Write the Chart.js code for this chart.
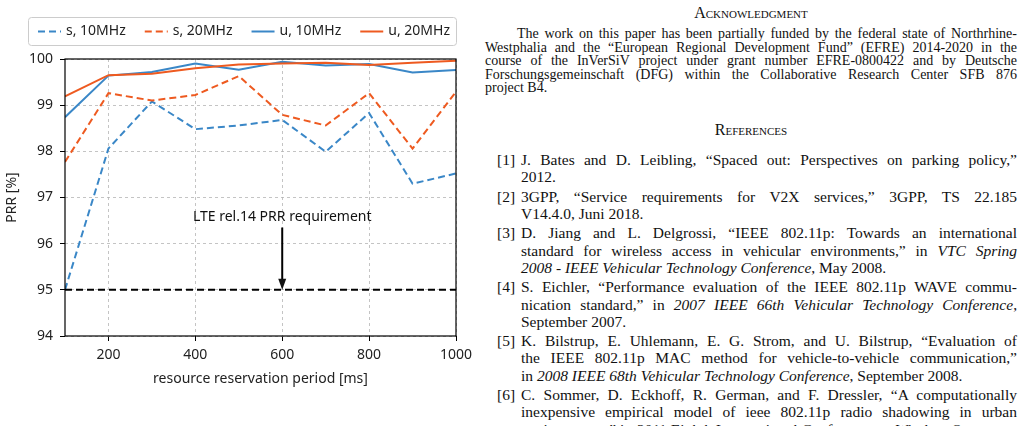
<!DOCTYPE html>
<html>
<head>
<meta charset="utf-8">
<script src="https://cdn.jsdelivr.net/npm/chart.js@4.4.1/dist/chart.umd.min.js"></script>
<style>
  body { margin: 0; width: 1023px; height: 426px; background: #fff; overflow: hidden; position: relative; }
  #chartBox { position: absolute; left: 0; top: 0; }
  .txt { position: absolute; font-family: "Liberation Serif", "Times New Roman", serif; color: #111; white-space: nowrap; }
  .head { left: 485px; width: 532px; text-align: center; font-size: 16px; font-variant: small-caps; }
  .p { font-size: 14px; line-height: 14px; }
  .r { font-size: 15.5px; line-height: 17px; }
</style>
</head>
<body>
<div id="chartBox"><canvas id="chart" width="480" height="426"></canvas></div>
<div id="paper"></div>
<script>
// data
const periods = [100, 200, 300, 400, 500, 600, 700, 800, 900, 1000];
const s10 = [95.0, 98.06, 99.08, 98.48, 98.56, 98.68, 97.99, 98.83, 97.30, 97.52];
const s20 = [97.77, 99.26, 99.10, 99.22, 99.63, 98.79, 98.56, 99.26, 98.06, 99.29];
const u10 = [98.74, 99.64, 99.72, 99.90, 99.77, 99.94, 99.86, 99.89, 99.71, 99.76];
const u20 = [99.19, 99.65, 99.68, 99.80, 99.88, 99.90, 99.92, 99.87, 99.92, 99.96];
const seriesNames = ["s, 10MHz", "s, 20MHz", "u, 10MHz", "u, 20MHz"];
const xTicks = [200, 400, 600, 800, 1000];
const yTicks = [94, 95, 96, 97, 98, 99, 100];
const requirement = 95;
const requirementSpan = [100, 1000];
const requirementText = "LTE rel.14 PRR requirement";
const requirementAt = 600;

const blue = "#3a87c7";
const orange = "#ee5a20";
const dash = [7, 4];

Chart.defaults.font.family = "'Noto Sans', sans-serif";
Chart.defaults.font.size = 14;
Chart.defaults.color = "#222";

const toPoints = (vals) => periods.map((p, i) => ({ x: p, y: vals[i] }));

function series(label, vals, color, dashed, order) {
  return {
    label: label,
    data: toPoints(vals),
    borderColor: color,
    backgroundColor: color,
    borderWidth: 2,
    borderDash: dashed ? dash : [],
    pointRadius: 0,
    tension: 0,
    order: order,
  };
}

// frame, annotation arrow and the boxed legend
const extras = {
  id: "extras",
  afterDatasetsDraw(chart) {
    const { ctx, chartArea: a, scales: { x, y } } = chart;
    ctx.save();
    ctx.strokeStyle = "#000";
    ctx.lineWidth = 1.2;
    ctx.strokeRect(a.left, a.top, a.right - a.left, a.bottom - a.top);

    // requirement label + arrow
    const ax = x.getPixelForValue(requirementAt);
    ctx.fillStyle = "#111";
    ctx.font = "14px 'Noto Sans', sans-serif";
    ctx.textAlign = "center";
    ctx.textBaseline = "middle";
    ctx.fillText(requirementText, ax, y.getPixelForValue(96.58));
    const y0 = y.getPixelForValue(96.35);
    const y1 = y.getPixelForValue(requirement);
    ctx.lineWidth = 2;
    ctx.beginPath();
    ctx.moveTo(ax, y0);
    ctx.lineTo(ax, y1 - 9);
    ctx.stroke();
    ctx.beginPath();
    ctx.moveTo(ax - 4, y1 - 11);
    ctx.lineTo(ax + 4, y1 - 11);
    ctx.lineTo(ax, y1);
    ctx.closePath();
    ctx.fill();

    // legend
    const bx = 28, by = 17, bw = 428, bh = 28;
    ctx.lineWidth = 1;
    ctx.strokeStyle = "#cccccc";
    ctx.fillStyle = "rgba(255,255,255,0.9)";
    ctx.beginPath();
    ctx.roundRect(bx + 0.5, by + 0.5, bw, bh, 3);
    ctx.fill();
    ctx.stroke();
    const cy = by + bh / 2 + 0.5;
    let lx = 38;
    ctx.textAlign = "left";
    chart.data.datasets.filter(d => seriesNames.includes(d.label)).forEach(d => {
      ctx.strokeStyle = d.borderColor;
      ctx.lineWidth = 2;
      ctx.setLineDash(d.borderDash);
      ctx.beginPath();
      ctx.moveTo(lx, cy);
      ctx.lineTo(lx + 23, cy);
      ctx.stroke();
      ctx.setLineDash([]);
      ctx.fillStyle = "#222";
      ctx.fillText(d.label, lx + 28, cy);
      lx += 28 + ctx.measureText(d.label).width + 19;
    });
    ctx.restore();
  },
};

new Chart(document.getElementById("chart"), {
  type: "line",
  data: {
    datasets: [
      series(seriesNames[0], s10, blue, true, 4),
      series(seriesNames[1], s20, orange, true, 3),
      series(seriesNames[2], u10, blue, false, 2),
      series(seriesNames[3], u20, orange, false, 1),
      {
        label: "requirement",
        data: requirementSpan.map(v => ({ x: v, y: requirement })),
        borderColor: "#000",
        borderWidth: 2,
        borderDash: dash,
        pointRadius: 0,
        order: 0,
      },
    ],
  },
  options: {
    responsive: false,
    animation: false,
    layout: { padding: { left: 0, top: 59, right: 24, bottom: 35 } },
    plugins: { legend: { display: false }, tooltip: { enabled: false } },
    scales: {
      x: {
        type: "linear",
        min: 100,
        max: 1000,
        afterBuildTicks: (s) => { s.ticks = xTicks.map(v => ({ value: v })); },
        afterFit: (s) => { s.height = 55; },
        ticks: { padding: 6, maxRotation: 0, autoSkip: false, callback: (v) => String(v) },
        grid: { color: "#b5b5b5", lineWidth: 0.8, tickColor: "#000", tickLength: 5, tickWidth: 1, tickBorderDash: [] },
        border: { display: false, dash: [3, 3] },
        title: { display: true, text: "resource reservation period [ms]", font: { size: 14 } },
      },
      y: {
        min: 94,
        max: 100,
        afterBuildTicks: (s) => { s.ticks = yTicks.map(v => ({ value: v })); },
        afterFit: (s) => { s.width = 65; },
        ticks: { padding: 7, callback: (v) => String(v) },
        grid: { color: "#b5b5b5", lineWidth: 0.8, tickColor: "#000", tickLength: 5, tickWidth: 1, tickBorderDash: [] },
        border: { display: false, dash: [3, 3] },
        title: { display: true, text: "PRR [%]", font: { size: 14 } },
      },
    },
  },
  plugins: [extras],
});

// right-hand column of the page
const paraLines = [
  "The work on this paper has been partially funded by the federal state of Northrhine-",
  "Westphalia and the “European Regional Development Fund” (EFRE) 2014-2020 in the",
  "course of the InVerSiV project under grant number EFRE-0800422 and by Deutsche",
  "Forschungsgemeinschaft (DFG) within the Collaborative Research Center SFB 876",
  "project B4.",
];
const refs = [
  ["J. Bates and D. Leibling, “Spaced out: Perspectives on parking policy,”", "2012."],
  ["3GPP, “Service requirements for V2X services,” 3GPP, TS 22.185", "V14.4.0, Juni 2018."],
  ["D. Jiang and L. Delgrossi, “IEEE 802.11p: Towards an international",
   "standard for wireless access in vehicular environments,” in <i>VTC Spring</i>",
   "<i>2008 - IEEE Vehicular Technology Conference</i>, May 2008."],
  ["S. Eichler, “Performance evaluation of the IEEE 802.11p WAVE commu-",
   "nication standard,” in <i>2007 IEEE 66th Vehicular Technology Conference</i>,",
   "September 2007."],
  ["K. Bilstrup, E. Uhlemann, E. G. Strom, and U. Bilstrup, “Evaluation of",
   "the IEEE 802.11p MAC method for vehicle-to-vehicle communication,”",
   "in <i>2008 IEEE 68th Vehicular Technology Conference</i>, September 2008."],
  ["C. Sommer, D. Eckhoff, R. German, and F. Dressler, “A computationally",
   "inexpensive empirical model of ieee 802.11p radio shadowing in urban",
   "environments,” in <i>2011 Eighth International Conference on Wireless On-</i>"],
];

const paper = document.getElementById("paper");
// one absolutely placed line; justified lines get their word spacing fitted to the width
function addLine(cls, html, left, top, width, justify) {
  const d = document.createElement("div");
  d.className = "txt " + cls;
  d.style.left = left + "px";
  d.style.top = top + "px";
  if (width) d.style.width = width + "px";
  d.innerHTML = "<span>" + html + "</span>";
  paper.appendChild(d);
  if (justify) {
    const natural = d.firstChild.getBoundingClientRect().width;
    const gaps = (d.textContent.match(/ /g) || []).length;
    if (gaps) d.style.wordSpacing = ((width - natural) / gaps) + "px";
  }
}
addLine("head", "Acknowledgment", 485, 4, 532, false);
paraLines.forEach((t, i) => {
  const left = i === 0 ? 517 : 485;
  addLine("p", t, left, 27 + i * 13.5, 1017 - left, i < paraLines.length - 1);
});
addLine("head", "References", 485, 121, 532, false);
let ry = 151;
refs.forEach((lines, n) => {
  addLine("r", "[" + (n + 1) + "]", 497, ry, 0, false);
  lines.forEach((t, i) => {
    addLine("r", t, 521, ry, 496, i < lines.length - 1);
    ry += 17.2;
  });
  ry += 2.3;
});
</script>
</body>
</html>
